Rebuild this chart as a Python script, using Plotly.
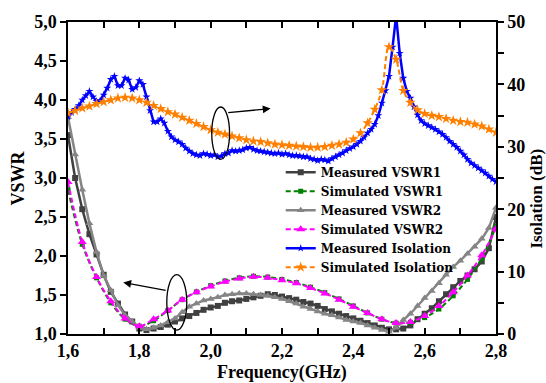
import numpy as np
import plotly.graph_objects as go

# ---------------- data ----------------
f_meas_iso = [round(1.60 + 0.01 * i, 2) for i in range(121)]
meas_iso = [34.8, 35.5, 36.0, 36.6, 37.5, 38.2, 38.9, 38.0, 37.3, 37.4,
            38.3, 39.4, 40.8, 41.3, 39.8, 39.8, 41.0, 40.7, 39.2, 39.5,
            40.6, 40.0, 38.0, 35.8, 34.0, 34.0, 34.5, 33.8, 32.5, 31.6,
            31.1, 30.8, 30.4, 29.8, 29.3, 28.9, 28.7, 28.6, 28.9, 28.8,
            28.6, 28.7, 28.4, 28.5, 28.9, 29.0, 29.4, 29.3, 29.4, 29.5,
            29.8, 29.9, 29.6, 29.4, 29.3, 29.2, 29.1, 29.0, 28.9, 29.0,
            28.8, 28.9, 28.7, 28.6, 28.6, 28.5, 28.4, 28.4, 28.1, 28.0,
            27.8, 28.0, 27.9, 27.7, 28.1, 28.4, 28.7, 29.0, 29.4, 29.7,
            30.0, 30.4, 30.9, 31.5, 32.2, 32.8, 33.6, 35.0, 37.0, 39.0,
            41.3, 46.0, 51.0, 45.0, 41.0, 38.9, 37.8, 36.4, 35.1, 34.2,
            33.7, 33.4, 33.1, 32.8, 32.4, 32.0, 31.5, 30.9, 30.4, 29.9,
            29.3, 28.7, 28.0, 27.4, 27.0, 26.6, 26.2, 25.8, 25.3, 24.8,
            24.4]

f_sim_iso = [round(1.60 + 0.02 * i, 2) for i in range(61)]
sim_iso = [35.4, 35.8, 36.2, 36.5, 36.9, 37.2, 37.5, 37.8, 37.9, 37.8,
           37.5, 37.1, 36.6, 36.1, 35.6, 35.2, 34.7, 34.2, 33.7, 33.2,
           32.7, 32.3, 32.0, 31.7, 31.4, 31.1, 30.9, 30.8, 30.6, 30.4,
           30.3, 30.2, 30.1, 30.0, 29.9, 29.9, 30.0, 30.2, 30.4, 30.7,
           31.2, 32.2, 33.8, 36.0, 39.1, 46.0, 44.0, 39.0, 37.1, 35.9,
           35.3, 35.0, 34.8, 34.5, 34.2, 34.0, 33.9, 33.6, 33.3, 32.8,
           32.3]

f_meas_vswr = [round(1.60 + 0.02 * i, 2) for i in range(61)]
meas_vswr1 = [3.55, 3.00, 2.60, 2.28, 2.02, 1.76, 1.54, 1.39, 1.25, 1.16,
              1.07, 1.05, 1.07, 1.09, 1.12, 1.16, 1.20, 1.23, 1.27, 1.31,
              1.34, 1.36, 1.40, 1.42, 1.43, 1.45, 1.47, 1.49, 1.51, 1.50,
              1.48, 1.46, 1.44, 1.41, 1.39, 1.36, 1.32, 1.29, 1.26, 1.23,
              1.20, 1.17, 1.14, 1.11, 1.08, 1.06, 1.06, 1.07, 1.11, 1.19,
              1.26, 1.33, 1.42, 1.51, 1.60, 1.68, 1.75, 1.83, 1.93, 2.10,
              2.50]
meas_vswr2 = [3.78, 3.30, 2.85, 2.42, 2.05, 1.75, 1.56, 1.37, 1.24, 1.16,
              1.08, 1.06, 1.08, 1.11, 1.15, 1.20, 1.28, 1.35, 1.39, 1.43,
              1.45, 1.47, 1.50, 1.51, 1.52, 1.52, 1.51, 1.50, 1.49, 1.47,
              1.45, 1.42, 1.39, 1.35, 1.32, 1.29, 1.26, 1.24, 1.21, 1.18,
              1.16, 1.14, 1.11, 1.08, 1.05, 1.03, 1.08, 1.18, 1.26, 1.36,
              1.46, 1.55, 1.65, 1.76, 1.86, 1.94, 2.03, 2.12, 2.22, 2.36,
              2.62]

f_sim_vswr = [round(1.60 + 0.04 * i, 2) for i in range(31)]
sim_vswr1 = [2.85, 2.15, 1.72, 1.40, 1.19, 1.10, 1.17, 1.30, 1.44, 1.54,
             1.62, 1.68, 1.72, 1.74, 1.73, 1.70, 1.66, 1.60, 1.53, 1.45,
             1.36, 1.27, 1.19, 1.14, 1.15, 1.21, 1.32, 1.49, 1.70, 1.97,
             2.38]
sim_vswr2 = [2.95, 2.18, 1.73, 1.42, 1.20, 1.10, 1.19, 1.30, 1.44, 1.535,
             1.61, 1.67, 1.71, 1.735, 1.72, 1.69, 1.65, 1.59, 1.52, 1.44,
             1.35, 1.27, 1.19, 1.14, 1.155, 1.23, 1.36, 1.535, 1.75, 2.01,
             2.35]

# ---------------- figure ----------------
FONT = "Liberation Serif"
fig = go.Figure()

fig.add_trace(go.Scatter(x=f_meas_vswr, y=meas_vswr1, name="Measured VSWR1",
                         mode="lines+markers",
                         line=dict(color="#404040", width=2.5),
                         marker=dict(symbol="square", size=6, color="#404040")))
fig.add_trace(go.Scatter(x=f_sim_vswr, y=sim_vswr1, name="Simulated VSWR1",
                         mode="lines+markers", line_shape="spline",
                         line=dict(color="#008000", width=2, dash="5px,3px"),
                         marker=dict(symbol="square", size=5, color="#008000")))
fig.add_trace(go.Scatter(x=f_meas_vswr, y=meas_vswr2, name="Measured VSWR2",
                         mode="lines+markers",
                         line=dict(color="#858585", width=2.5),
                         marker=dict(symbol="triangle-up", size=7, color="#858585")))
fig.add_trace(go.Scatter(x=f_sim_vswr, y=sim_vswr2, name="Simulated VSWR2",
                         mode="lines+markers", line_shape="spline",
                         line=dict(color="#FF00FF", width=2, dash="5px,3px"),
                         marker=dict(symbol="triangle-up", size=8, color="#FF00FF")))
fig.add_trace(go.Scatter(x=f_meas_iso, y=meas_iso, name="Measured Isolation",
                         mode="lines+markers", yaxis="y2",
                         line=dict(color="#0000FF", width=2.5),
                         marker=dict(symbol="star", size=6, color="#0000FF")))
fig.add_trace(go.Scatter(x=f_sim_iso, y=sim_iso, name="Simulated Isolation",
                         mode="lines+markers", yaxis="y2", line_shape="spline",
                         line=dict(color="#FF8000", width=2, dash="5px,3px"),
                         marker=dict(symbol="star", size=8, color="#FF8000")))

tickfont = dict(family=FONT, size=18, color="black", weight="bold")
axis_common = dict(showline=True, linecolor="black", linewidth=1.5,
                   showgrid=False, zeroline=False, tickcolor="black",
                   tickwidth=1.5, ticklen=6, tickfont=tickfont)

fig.update_layout(
    width=546, height=383,
    margin=dict(l=68, r=50, t=18, b=49),
    paper_bgcolor="white", plot_bgcolor="white",
    separators=",.",
    showlegend=True,
    legend=dict(x=0.497, y=0.565, xanchor="left", yanchor="top",
                bgcolor="rgba(0,0,0,0)",
                font=dict(family="DejaVu Serif", size=12, color="black",
                          weight="bold")),
    xaxis=dict(range=[1.6, 2.8], dtick=0.2, tick0=1.6, tickformat=".1f",
               ticks="inside", mirror="ticks",
               minor=dict(dtick=0.1, ticks="inside", ticklen=6, tickwidth=1.5,
                          tickcolor="black"),
               **axis_common),
    yaxis=dict(range=[1.0, 5.0], dtick=0.5, tick0=1.0, tickformat=".1f",
               ticks="outside", **axis_common),
    yaxis2=dict(range=[0, 50], dtick=10, tick0=0, overlaying="y", side="right",
                ticks="outside",
                minor=dict(dtick=5, ticks="outside", ticklen=6, tickwidth=1.5,
                           tickcolor="black"),
                **axis_common),
    yaxis3=dict(range=[1.0, 5.0], dtick=0.5, tick0=1.0, overlaying="y",
                side="left", ticks="inside", showticklabels=False,
                showline=False, showgrid=False, zeroline=False,
                tickcolor="black", tickwidth=1.5, ticklen=6),
    yaxis4=dict(range=[0, 50], dtick=5, tick0=0, overlaying="y",
                side="right", ticks="inside", showticklabels=False,
                showline=False, showgrid=False, zeroline=False,
                tickcolor="black", tickwidth=1.5, ticklen=6),
)

# ellipses
fig.add_shape(type="circle", xref="x", yref="y", x0=2.003, x1=2.053,
              y0=3.24, y1=3.91, line=dict(color="black", width=1.3))
fig.add_shape(type="circle", xref="x", yref="y", x0=1.877, x1=1.933,
              y0=1.05, y1=1.76, line=dict(color="black", width=1.3))
# arrows
fig.add_annotation(x=2.168, y=3.89, ax=2.045, ay=3.835, xref="x", yref="y",
                   axref="x", ayref="y", text="", showarrow=True,
                   arrowhead=2, arrowsize=1.2, arrowwidth=1.3, arrowcolor="black")
fig.add_annotation(x=1.755, y=1.66, ax=1.878, ay=1.557, xref="x", yref="y",
                   axref="x", ayref="y", text="", showarrow=True,
                   arrowhead=2, arrowsize=1.2, arrowwidth=1.3, arrowcolor="black")

titlefont = dict(family=FONT, size=18, color="black", weight="bold")
fig.add_annotation(text="VSWR", xref="paper", yref="paper", x=-0.1157, y=0.5,
                   textangle=-90, showarrow=False, font=titlefont,
                   xanchor="center", yanchor="middle")
fig.add_annotation(text="Isolation (dB)", xref="paper", yref="paper",
                   x=1.094, y=0.435, textangle=-90, showarrow=False,
                   font=dict(family=FONT, size=17, color="black", weight="bold"),
                   xanchor="center", yanchor="middle")
fig.add_annotation(text="Frequency(GHz)", xref="paper", yref="paper",
                   x=0.501, y=-0.1225, showarrow=False, font=titlefont,
                   xanchor="center", yanchor="middle")

fig.write_html("out.html")
